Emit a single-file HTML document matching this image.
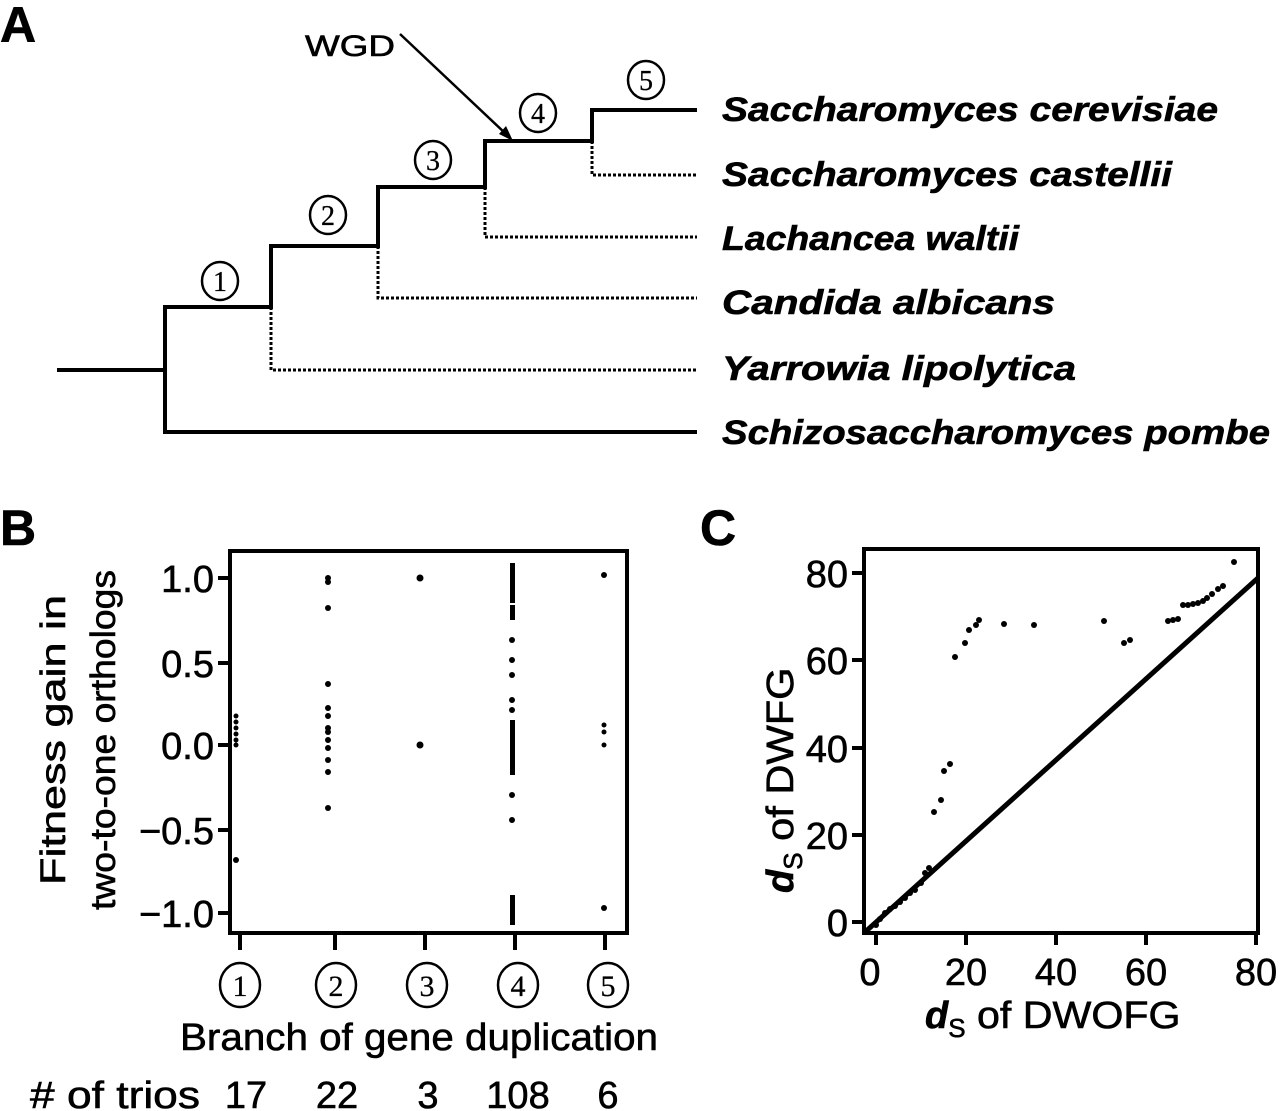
<!DOCTYPE html>
<html><head><meta charset="utf-8"><style>
html,body{margin:0;padding:0;background:#fff;}
svg{display:block;}
text{font-family:"Liberation Sans",sans-serif;fill:#000;stroke:#000;stroke-width:0.6;}
.c{font-family:"Liberation Serif",serif;stroke-width:0.3;}
</style></head><body>
<svg width="1280" height="1111" viewBox="0 0 1280 1111" xmlns="http://www.w3.org/2000/svg">
<!-- Panel A -->
<text x="0" y="42" font-size="50" font-weight="bold">A</text>
<g stroke="#000" stroke-width="4" fill="none">
<path d="M57 370 H165 M165 307 V432 H697 M163 307 H271 V246 H378 V187 H485 V141 H592 V110 H697"/>
</g>
<g stroke="#000" stroke-width="3" fill="none" stroke-dasharray="3,2">
<path d="M271 307 V370 H697 M378 246 V298 H697 M485 187 V237 H697 M592 141 V175 H697"/>
</g>
<g stroke="#000" stroke-width="2.5" fill="#fff">
<ellipse cx="220" cy="281" rx="18" ry="19"/>
<ellipse cx="328" cy="215" rx="18" ry="19"/>
<ellipse cx="433" cy="160" rx="18" ry="19"/>
<ellipse cx="538" cy="113" rx="18" ry="19"/>
<ellipse cx="646" cy="80" rx="18" ry="19"/>
</g>
<g font-size="28" text-anchor="middle">
<text x="220" y="291" class="c">1</text>
<text x="328" y="225" class="c">2</text>
<text x="433" y="170" class="c">3</text>
<text x="538" y="123" class="c">4</text>
<text x="646" y="90" class="c">5</text>
</g>
<text x="305" y="56" font-size="30" textLength="90" lengthAdjust="spacingAndGlyphs">WGD</text>
<line x1="400" y1="34" x2="506" y2="134" stroke="#000" stroke-width="2.5"/>
<polygon points="513,141 499,134 506,126" fill="#000"/>
<g font-size="34" font-weight="bold" font-style="italic">
<text x="722" y="121" textLength="496" lengthAdjust="spacingAndGlyphs">Saccharomyces cerevisiae</text>
<text x="722" y="186" textLength="450" lengthAdjust="spacingAndGlyphs">Saccharomyces castellii</text>
<text x="722" y="250" textLength="297" lengthAdjust="spacingAndGlyphs">Lachancea waltii</text>
<text x="722" y="314" textLength="333" lengthAdjust="spacingAndGlyphs">Candida albicans</text>
<text x="722" y="380" textLength="354" lengthAdjust="spacingAndGlyphs">Yarrowia lipolytica</text>
<text x="722" y="444" textLength="548" lengthAdjust="spacingAndGlyphs">Schizosaccharomyces pombe</text>
</g>
<!-- Panel B -->
<text x="0" y="545" font-size="50" font-weight="bold">B</text>
<rect x="230" y="551" width="397" height="382" fill="none" stroke="#000" stroke-width="4"/>
<g stroke="#000" stroke-width="4">
<line x1="218" y1="578" x2="230" y2="578"/><line x1="218" y1="663" x2="230" y2="663"/>
<line x1="218" y1="745" x2="230" y2="745"/><line x1="218" y1="830" x2="230" y2="830"/>
<line x1="218" y1="913" x2="230" y2="913"/>
<line x1="240" y1="933" x2="240" y2="950"/><line x1="335" y1="933" x2="335" y2="950"/>
<line x1="425" y1="933" x2="425" y2="950"/><line x1="515" y1="933" x2="515" y2="950"/>
<line x1="605" y1="933" x2="605" y2="950"/>
</g>
<g font-size="38" text-anchor="end">
<text x="214" y="592">1.0</text><text x="214" y="677">0.5</text>
<text x="214" y="759">0.0</text><text x="214" y="844">−0.5</text>
<text x="214" y="927">−1.0</text>
</g>
<g font-size="35" text-anchor="middle">
<text transform="translate(65,740) rotate(-90)" textLength="290" lengthAdjust="spacingAndGlyphs">Fitness gain in</text>
<text transform="translate(115,740) rotate(-90)" textLength="340" lengthAdjust="spacingAndGlyphs">two-to-one orthologs</text>
</g>
<g fill="#000">
<circle cx="236" cy="745" r="2.5"/><circle cx="236" cy="740" r="2.5"/><circle cx="236" cy="734" r="2.5"/><circle cx="236" cy="728" r="2.5"/><circle cx="236" cy="722" r="2.5"/><circle cx="236" cy="716" r="2.5"/><circle cx="236" cy="860" r="3"/>
<circle cx="328" cy="582" r="3"/><circle cx="328" cy="578" r="3"/><circle cx="328" cy="608" r="3"/><circle cx="328" cy="684" r="3"/><circle cx="328" cy="708" r="3"/><circle cx="328" cy="716" r="3"/><circle cx="328" cy="732" r="3"/><circle cx="328" cy="740" r="3"/><circle cx="328" cy="748" r="3"/><circle cx="328" cy="760" r="3"/><circle cx="328" cy="772" r="3"/><circle cx="328" cy="808" r="3"/><circle cx="328" cy="728" r="3"/>
<circle cx="420" cy="578" r="3.5"/><circle cx="420" cy="745" r="3.5"/>
<rect x="510" y="563" width="5" height="40"/><rect x="510" y="605" width="5" height="15"/><circle cx="512" cy="640" r="3"/><circle cx="512" cy="660" r="3"/><circle cx="512" cy="675" r="3"/><circle cx="512" cy="700" r="3"/><circle cx="512" cy="710" r="3"/>
<rect x="510" y="720" width="5" height="55"/><circle cx="512" cy="795" r="3"/><circle cx="512" cy="820" r="3"/>
<rect x="510" y="895" width="5" height="30"/>
<circle cx="604" cy="575" r="3"/><circle cx="604" cy="725" r="2.5"/><circle cx="604" cy="732" r="2.5"/><circle cx="604" cy="745" r="2.5"/><circle cx="604" cy="908" r="3"/>
</g>
<g stroke="#000" stroke-width="2.5" fill="#fff">
<ellipse cx="240" cy="985" rx="20" ry="22"/><ellipse cx="336" cy="985" rx="20" ry="22"/>
<ellipse cx="427" cy="985" rx="20" ry="22"/><ellipse cx="518" cy="985" rx="20" ry="22"/>
<ellipse cx="608" cy="985" rx="20" ry="22"/>
</g>
<g font-size="30" text-anchor="middle">
<text x="240" y="996" class="c">1</text><text x="336" y="996" class="c">2</text>
<text x="427" y="996" class="c">3</text><text x="518" y="996" class="c">4</text>
<text x="608" y="996" class="c">5</text>
</g>
<text x="180" y="1050" font-size="38" textLength="478" lengthAdjust="spacingAndGlyphs">Branch of gene duplication</text>
<text x="30" y="1108" font-size="38" textLength="170" lengthAdjust="spacingAndGlyphs"># of trios</text>
<g font-size="38" text-anchor="middle">
<text x="246" y="1108">17</text><text x="337" y="1108">22</text><text x="428" y="1108">3</text>
<text x="518" y="1108">108</text><text x="608" y="1108">6</text>
</g>
<!-- Panel C -->
<text x="700" y="545" font-size="50" font-weight="bold">C</text>
<rect x="864" y="549" width="394" height="384" fill="none" stroke="#000" stroke-width="4"/>
<line x1="864" y1="933" x2="1258" y2="578" stroke="#000" stroke-width="5"/>
<g stroke="#000" stroke-width="4">
<line x1="852" y1="573" x2="864" y2="573"/><line x1="852" y1="660" x2="864" y2="660"/>
<line x1="852" y1="748" x2="864" y2="748"/><line x1="852" y1="835" x2="864" y2="835"/>
<line x1="852" y1="922" x2="864" y2="922"/>
<line x1="876" y1="933" x2="876" y2="945"/><line x1="966" y1="933" x2="966" y2="945"/>
<line x1="1056" y1="933" x2="1056" y2="945"/><line x1="1146" y1="933" x2="1146" y2="945"/>
<line x1="1256" y1="933" x2="1256" y2="945"/>
</g>
<g font-size="38" text-anchor="end">
<text x="848" y="587">80</text><text x="848" y="674">60</text><text x="848" y="762">40</text>
<text x="848" y="849">20</text><text x="848" y="936">0</text>
</g>
<g font-size="38" text-anchor="middle">
<text x="870" y="985">0</text><text x="966" y="985">20</text><text x="1056" y="985">40</text>
<text x="1146" y="985">60</text><text x="1256" y="985">80</text>
</g>
<text transform="translate(793,893) rotate(-90)" font-size="38"><tspan font-weight="bold" font-style="italic">d</tspan><tspan font-size="26" dy="9">S</tspan><tspan dy="-9" textLength="185" lengthAdjust="spacingAndGlyphs"> of DWFG</tspan></text>
<text x="925" y="1028" font-size="38"><tspan font-weight="bold" font-style="italic">d</tspan><tspan font-size="26" dy="9">S</tspan><tspan dy="-9" textLength="215" lengthAdjust="spacingAndGlyphs"> of DWOFG</tspan></text>
<g fill="#000">
<circle cx="1234" cy="562" r="3"/><circle cx="1223" cy="586" r="3"/><circle cx="1218" cy="589" r="3"/><circle cx="1212" cy="594" r="3"/><circle cx="1207" cy="598" r="3"/><circle cx="1203" cy="601" r="3"/><circle cx="1198" cy="603" r="3"/><circle cx="1193" cy="604" r="3"/><circle cx="1188" cy="605" r="3"/><circle cx="1183" cy="605" r="3"/><circle cx="1178" cy="619" r="3"/><circle cx="1173" cy="620" r="3"/><circle cx="1168" cy="621" r="3"/>
<circle cx="1104" cy="621" r="3"/><circle cx="1034" cy="625" r="3"/><circle cx="1004" cy="624" r="3"/><circle cx="1124" cy="643" r="3"/><circle cx="1130" cy="640" r="3"/>
<circle cx="979" cy="620" r="3"/><circle cx="976" cy="625" r="3"/><circle cx="969" cy="630" r="3"/><circle cx="965" cy="643" r="3"/><circle cx="955" cy="657" r="3"/>
<circle cx="950" cy="764" r="3"/><circle cx="944" cy="771" r="3"/><circle cx="941" cy="800" r="3"/><circle cx="934" cy="812" r="3"/>
<circle cx="929" cy="868" r="3"/><circle cx="925" cy="873" r="3"/><circle cx="921" cy="883" r="3"/><circle cx="915" cy="890" r="3"/><circle cx="910" cy="893" r="3"/><circle cx="905" cy="898" r="3"/><circle cx="900" cy="902" r="3"/><circle cx="895" cy="906" r="3"/><circle cx="890" cy="909" r="3"/><circle cx="885" cy="913" r="3"/><circle cx="880" cy="919" r="3"/><circle cx="876" cy="925" r="3"/>
</g>
</svg>
</body></html>
